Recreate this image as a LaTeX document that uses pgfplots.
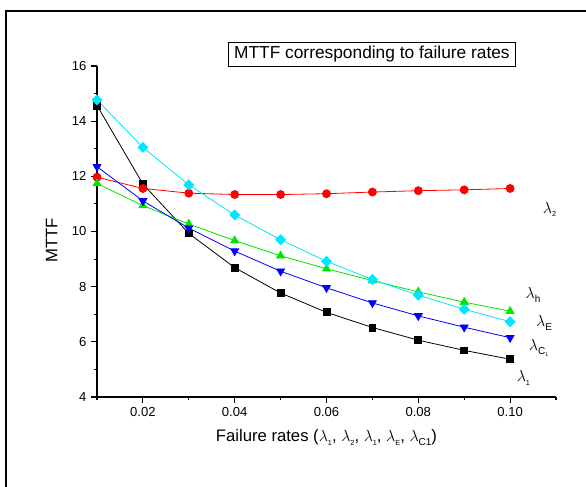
\documentclass[border=0pt]{standalone}
\usepackage{pgfplots}
\pgfplotsset{compat=1.18}
\usepackage{fontspec}
\setmainfont{Liberation Sans}
\newcommand\lam[1]{$\lambda$\raisebox{-0.45ex}{\fontsize{7.5}{8}\selectfont #1}}
\newcommand\lsub[1]{$\lambda$\raisebox{-0.45ex}{\fontsize{5.5}{6}\selectfont #1}}
\definecolor{cgreen}{RGB}{0,230,0}
\definecolor{ccyan}{RGB}{0,230,255}
\definecolor{cblue}{RGB}{0,0,255}
\definecolor{cred}{RGB}{255,0,0}
\pgfplotstableread{
x     l1     l2     lE     lh     lC
0.01  14.57  11.97  14.77  11.74  12.35
0.02  11.72  11.56  13.05  10.94  11.11
0.03  9.93   11.39  11.69  10.27  10.12
0.04  8.69   11.34  10.60  9.67   9.29
0.05  7.77   11.34  9.70   9.12   8.56
0.06  7.07   11.37  8.92   8.65   7.96
0.07  6.52   11.43  8.26   8.22   7.41
0.08  6.06   11.48  7.69   7.81   6.94
0.09  5.69   11.51  7.18   7.44   6.53
0.10  5.37   11.56  6.73   7.11   6.15
}\mydata
\begin{document}
\begin{tikzpicture}
\useasboundingbox (0,0) rectangle (439.5pt,364.5pt);
\draw[line width=1.6pt] (4.2pt,-5pt) -- (4.2pt,356.5pt) -- (445pt,356.5pt);
\begin{axis}[
  at={(72.75pt,66.75pt)}, anchor=south west,
  scale only axis, width=344.25pt, height=248.25pt,
  xmin=0.01, xmax=0.11, ymin=4, ymax=16,
  axis lines=left, axis line style={-, line width=0.9pt},
  clip=false,
  xtick={0.02,0.04,0.06,0.08,0.10},
  minor xtick={0.01,0.03,0.05,0.07,0.09,0.11},
  ytick={4,6,8,10,12,14,16},
  minor ytick={5,7,9,11,13,15},
  tick align=outside,
  major tick length=4.5pt, minor tick length=2.5pt,
  tick style={line width=0.8pt, black},
  xticklabel style={/pgf/number format/.cd, fixed, fixed zerofill, precision=2},
  /pgf/number format/assume math mode=true,
  ticklabel style={font=\fontsize{9.8}{11}\selectfont},
  xlabel={Failure rates (\lsub{1}, \lsub{2}, \lsub{1}, \lsub{E}, \lam{C1})},
  ylabel={MTTF},
  label style={font=\fontsize{12.5}{14}\selectfont},
  xlabel style={at={(rel axis cs:0.5,-0.121)}, anchor=center},
  ylabel style={at={(rel axis cs:-0.099,0.474)}, anchor=center},
  every axis plot/.append style={line width=0.6pt},
]
\addplot[black, mark=square*, mark size=2.6pt, mark options={solid}] table[x=x,y=l1] {\mydata};
\addplot[cred, mark=*, mark size=3pt] table[x=x,y=l2] {\mydata};
\addplot[cgreen, mark=triangle*, mark size=3.4pt] table[x=x,y=lh] {\mydata};
\addplot[cblue, mark=triangle*, mark size=3.4pt, mark options={rotate=180}] table[x=x,y=lC] {\mydata};
\addplot[ccyan, mark=square*, mark size=2.6pt, mark options={rotate=45}] table[x=x,y=lE] {\mydata};
\node[font=\fontsize{11.5}{12}\selectfont] at (axis cs:0.1086,10.8) {\lsub{2}};
\node[font=\fontsize{11.5}{12}\selectfont] at (axis cs:0.1050,7.71) {\lam{h}};
\node[font=\fontsize{11.5}{12}\selectfont] at (axis cs:0.1074,6.69) {\lam{E}};
\node[font=\fontsize{11.5}{12}\selectfont] at (axis cs:0.1062,5.78) {$\lambda$\raisebox{-0.45ex}{\fontsize{7.5}{8}\selectfont C\raisebox{-0.3ex}{\fontsize{4}{5}\selectfont 1}}};
\node[font=\fontsize{11.5}{12}\selectfont] at (axis cs:0.1029,4.69) {\lsub{1}};
\node[draw, line width=0.6pt, inner xsep=4pt, inner ysep=3pt, font=\fontsize{13}{15}\selectfont] at (rel axis cs:0.599,1.036) {MTTF corresponding to failure rates};
\end{axis}
\end{tikzpicture}
\end{document}
